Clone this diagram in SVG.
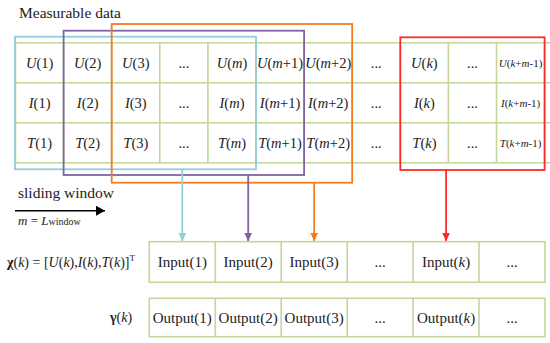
<svg xmlns="http://www.w3.org/2000/svg" width="550" height="343" viewBox="0 0 550 343">
<style>
  text { font-family: "Liberation Serif", "DejaVu Serif", serif; fill: #222; }
  .c { font-size: 14.5px; text-anchor: middle; }
  .s { font-size: 11px; text-anchor: middle; }
  .b { font-size: 15px; text-anchor: middle; }
  .i { font-style: italic; }
  .g { fill: none; stroke: #c3d69b; stroke-width: 1.6; }
  .gc { fill: #ffffff; stroke: #c3d69b; stroke-width: 1.6; }
  .win { fill: none; stroke-width: 1.8; }
  .cy { stroke: #92cddc; }
  .pu { stroke: #8064a2; }
  .or { stroke: #f07d22; }
  .rd { stroke: #ff2a2a; }
</style>
<defs>
  <marker id="aCy" viewBox="0 0 9 8" refX="9" refY="4" markerWidth="9" markerHeight="8" markerUnits="userSpaceOnUse" orient="auto"><path d="M0,0 L9,4 L0,8 z" fill="#92cddc"/></marker>
  <marker id="aPu" viewBox="0 0 9 8" refX="9" refY="4" markerWidth="9" markerHeight="8" markerUnits="userSpaceOnUse" orient="auto"><path d="M0,0 L9,4 L0,8 z" fill="#8064a2"/></marker>
  <marker id="aOr" viewBox="0 0 9 8" refX="9" refY="4" markerWidth="9" markerHeight="8" markerUnits="userSpaceOnUse" orient="auto"><path d="M0,0 L9,4 L0,8 z" fill="#f07d22"/></marker>
  <marker id="aRd" viewBox="0 0 9 8" refX="9" refY="4" markerWidth="9" markerHeight="8" markerUnits="userSpaceOnUse" orient="auto"><path d="M0,0 L9,4 L0,8 z" fill="#ff2a2a"/></marker>
  <marker id="aBk" viewBox="0 0 9 10" refX="9" refY="5" markerWidth="9" markerHeight="10" markerUnits="userSpaceOnUse" orient="auto"><path d="M0,0 L9,5 L0,10 z" fill="#000"/></marker>
</defs>

<g id="measurable-data-label">
  <text x="19" y="17.5" style="font-size:15.5px">Measurable data</text>
</g>

<g id="data-table">
  <path class="g" d="M15.5,42.7 H550 M15.5,82.7 H550 M15.5,122.7 H550 M15.5,162.7 H550 M15.5,42.7 V162.7 M63.6,42.7 V162.7 M111.7,42.7 V162.7 M159.8,42.7 V162.7 M207.9,42.7 V162.7 M256,42.7 V162.7 M304.1,42.7 V162.7 M352.2,42.7 V162.7 M400.3,42.7 V162.7 M448.4,42.7 V162.7 M496.5,42.7 V162.7 M544.6,42.7 V162.7"/>
  <text class="c" x="39.6" y="67.7"><tspan class="i">U</tspan>(1)</text>
  <text class="c" x="87.7" y="67.7"><tspan class="i">U</tspan>(2)</text>
  <text class="c" x="135.8" y="67.7"><tspan class="i">U</tspan>(3)</text>
  <text class="c" x="183.9" y="67.7">...</text>
  <text class="c" x="232" y="67.7"><tspan class="i">U</tspan>(<tspan class="i">m</tspan>)</text>
  <text class="c" x="280" y="67.7"><tspan class="i">U</tspan>(<tspan class="i">m</tspan>+1)</text>
  <text class="c" x="328.2" y="67.7"><tspan class="i">U</tspan>(<tspan class="i">m</tspan>+2)</text>
  <text class="c" x="376.3" y="67.7">...</text>
  <text class="c" x="424.4" y="67.7"><tspan class="i">U</tspan>(<tspan class="i">k</tspan>)</text>
  <text class="c" x="472.5" y="67.7">...</text>
  <text class="s" x="520.6" y="66.7"><tspan class="i">U</tspan>(<tspan class="i">k</tspan>+<tspan class="i">m</tspan>-1)</text>

  <text class="c" x="39.6" y="107.7"><tspan class="i">I</tspan>(1)</text>
  <text class="c" x="87.7" y="107.7"><tspan class="i">I</tspan>(2)</text>
  <text class="c" x="135.8" y="107.7"><tspan class="i">I</tspan>(3)</text>
  <text class="c" x="183.9" y="107.7">...</text>
  <text class="c" x="232" y="107.7"><tspan class="i">I</tspan>(<tspan class="i">m</tspan>)</text>
  <text class="c" x="280" y="107.7"><tspan class="i">I</tspan>(<tspan class="i">m</tspan>+1)</text>
  <text class="c" x="328.2" y="107.7"><tspan class="i">I</tspan>(<tspan class="i">m</tspan>+2)</text>
  <text class="c" x="376.3" y="107.7">...</text>
  <text class="c" x="424.4" y="107.7"><tspan class="i">I</tspan>(<tspan class="i">k</tspan>)</text>
  <text class="c" x="472.5" y="107.7">...</text>
  <text class="s" x="520.6" y="106.7"><tspan class="i">I</tspan>(<tspan class="i">k</tspan>+<tspan class="i">m</tspan>-1)</text>

  <text class="c" x="39.6" y="147.7"><tspan class="i">T</tspan>(1)</text>
  <text class="c" x="87.7" y="147.7"><tspan class="i">T</tspan>(2)</text>
  <text class="c" x="135.8" y="147.7"><tspan class="i">T</tspan>(3)</text>
  <text class="c" x="183.9" y="147.7">...</text>
  <text class="c" x="232" y="147.7"><tspan class="i">T</tspan>(<tspan class="i">m</tspan>)</text>
  <text class="c" x="280" y="147.7"><tspan class="i">T</tspan>(<tspan class="i">m</tspan>+1)</text>
  <text class="c" x="328.2" y="147.7"><tspan class="i">T</tspan>(<tspan class="i">m</tspan>+2)</text>
  <text class="c" x="376.3" y="147.7">...</text>
  <text class="c" x="424.4" y="147.7"><tspan class="i">T</tspan>(<tspan class="i">k</tspan>)</text>
  <text class="c" x="472.5" y="147.7">...</text>
  <text class="s" x="520.6" y="146.7"><tspan class="i">T</tspan>(<tspan class="i">k</tspan>+<tspan class="i">m</tspan>-1)</text>
</g>

<g id="window-1"><rect class="win cy" x="15" y="36.7" width="241" height="132.6"/></g>
<g id="window-2"><rect class="win pu" x="63.6" y="30.7" width="240.5" height="144.3"/></g>
<g id="window-3"><rect class="win or" x="111.7" y="24" width="240.5" height="158.7"/></g>
<g id="window-k"><rect class="win rd" x="400.3" y="37.3" width="144.3" height="132.7"/></g>

<g id="connectors">
  <line class="win cy" x1="182.3" y1="169.3" x2="182.3" y2="241.5" marker-end="url(#aCy)"/>
  <line class="win pu" x1="248.2" y1="175" x2="248.2" y2="241.5" marker-end="url(#aPu)"/>
  <line class="win or" x1="314.2" y1="182.7" x2="314.2" y2="241.5" marker-end="url(#aOr)"/>
  <line class="win rd" x1="446.1" y1="170" x2="446.1" y2="241.5" marker-end="url(#aRd)"/>
  <line x1="15" y1="210.7" x2="105" y2="210.7" stroke="#000" stroke-width="1.6" marker-end="url(#aBk)"/>
</g>

<g id="sliding-window-label">
  <text x="18" y="198" style="font-size:15.5px">sliding window</text>
  <text x="18" y="225" style="font-size:13px"><tspan class="i">m</tspan> = <tspan class="i">L</tspan><tspan style="font-size:10px">window</tspan></text>
</g>

<g id="input-row">
  <rect class="gc" x="149.3" y="241.7" width="395.7" height="40.6"/>
  <path class="g" d="M215.3,241.7 V282.3 M281.2,241.7 V282.3 M347.2,241.7 V282.3 M413.1,241.7 V282.3 M479,241.7 V282.3"/>
  <text class="b" x="182.3" y="267">Input(1)</text>
  <text class="b" x="248.2" y="267">Input(2)</text>
  <text class="b" x="314.2" y="267">Input(3)</text>
  <text class="b" x="380.1" y="267">...</text>
  <text class="b" x="446.1" y="267">Input(<tspan class="i">k</tspan>)</text>
  <text class="b" x="512" y="267">...</text>
</g>

<g id="output-row">
  <rect class="gc" x="149.3" y="298.3" width="395.7" height="38.4"/>
  <path class="g" d="M215.3,298.3 V336.7 M281.2,298.3 V336.7 M347.2,298.3 V336.7 M413.1,298.3 V336.7 M479,298.3 V336.7"/>
  <text class="b" x="182.3" y="322.5">Output(1)</text>
  <text class="b" x="248.2" y="322.5">Output(2)</text>
  <text class="b" x="314.2" y="322.5">Output(3)</text>
  <text class="b" x="380.1" y="322.5">...</text>
  <text class="b" x="446.1" y="322.5">Output(<tspan class="i">k</tspan>)</text>
  <text class="b" x="512" y="322.5">...</text>
</g>

<g id="input-label">
  <text x="7" y="267" style="font-size:14px"><tspan font-weight="bold">χ</tspan>(<tspan class="i">k</tspan>) = [<tspan class="i">U</tspan>(<tspan class="i">k</tspan>),<tspan class="i">I</tspan>(<tspan class="i">k</tspan>),<tspan class="i">T</tspan>(<tspan class="i">k</tspan>)]<tspan style="font-size:9px" dy="-6">T</tspan></text>
</g>
<g id="output-label">
  <text x="110" y="322" style="font-size:14px"><tspan font-weight="bold">γ</tspan>(<tspan class="i">k</tspan>)</text>
</g>
</svg>
